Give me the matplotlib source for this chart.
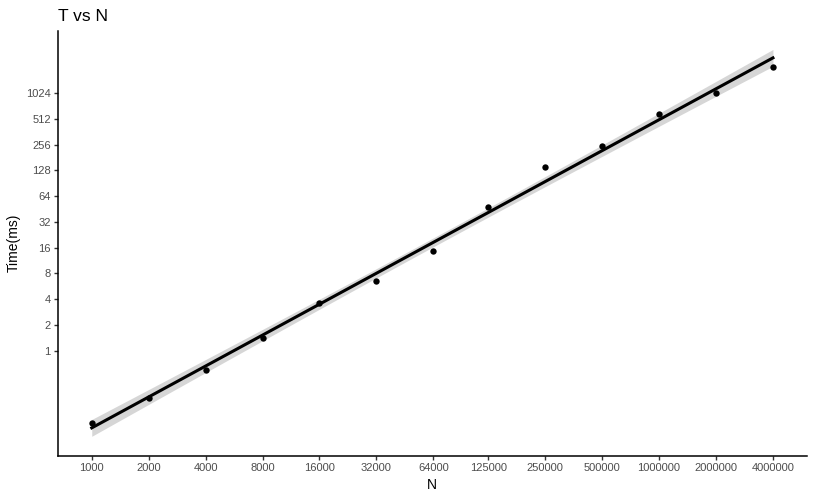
import numpy as np
import matplotlib
matplotlib.use("Agg")
import matplotlib.pyplot as plt

n_values = [1000, 2000, 4000, 8000, 16000, 32000, 64000, 125000,
            250000, 500000, 1000000, 2000000, 4000000]
time_ms = [0.144, 0.28, 0.59, 1.40, 3.61, 6.59, 14.8, 48.3,
           141, 248, 587, 1024, 2080]
y_ticks = [1, 2, 4, 8, 16, 32, 64, 128, 256, 512, 1024]

plt.rcParams['font.family'] = ['Liberation Sans', 'DejaVu Sans']

# linear fit in log2-log2 space with 95% confidence band (like geom_smooth lm)
lx = np.log2(n_values)
ly = np.log2(time_ms)
n = len(lx)
slope, intercept = np.polyfit(lx, ly, 1)
resid = ly - (slope * lx + intercept)
s = np.sqrt(np.sum(resid ** 2) / (n - 2))
t_crit = 2.201  # t(0.975, df=11)
gx = np.linspace(lx.min(), lx.max(), 80)
fit = slope * gx + intercept
se = s * np.sqrt(1 / n + (gx - lx.mean()) ** 2 / np.sum((lx - lx.mean()) ** 2))

fig = plt.figure(figsize=(8.15, 4.99), dpi=100)
ax = fig.add_axes([57.7 / 815, (499 - 455.7) / 499, (807 - 57.7) / 815, (455.7 - 30.7) / 499])

ax.fill_between(2 ** gx, 2 ** (fit - t_crit * se), 2 ** (fit + t_crit * se),
                color='#999999', alpha=0.4, linewidth=0, zorder=1)
ax.scatter(n_values, time_ms, s=21, color='black', zorder=2, linewidths=0)
ax.plot(2 ** gx, 2 ** fit, color='black', linewidth=2.2, zorder=3)

ax.set_xscale('log', base=2)
ax.set_yscale('log', base=2)
xr = lx.max() - lx.min()
ax.set_xlim(2 ** (lx.min() - 0.05 * xr), 2 ** (lx.max() + 0.05 * xr))
ax.set_ylim(2 ** -4.08, 2 ** 12.43)

ax.set_xticks(n_values)
ax.set_xticklabels([str(v) for v in n_values])
ax.set_yticks(y_ticks)
ax.set_yticklabels([str(v) for v in y_ticks])
ax.minorticks_off()

ax.tick_params(axis='both', length=3, width=1, color='#333333',
               labelcolor='#4D4D4D', labelsize=8, pad=2)
for side in ['top', 'right']:
    ax.spines[side].set_visible(False)
for side in ['left', 'bottom']:
    ax.spines[side].set_linewidth(1.1)
    ax.spines[side].set_color('black')

ax.set_xlabel('N', fontsize=10, labelpad=4)
ax.set_ylabel('Time(ms)', fontsize=10, labelpad=4)
ax.set_title('T vs N', fontsize=12.5, loc='left', pad=7)

fig.savefig('out.png', dpi=100)
